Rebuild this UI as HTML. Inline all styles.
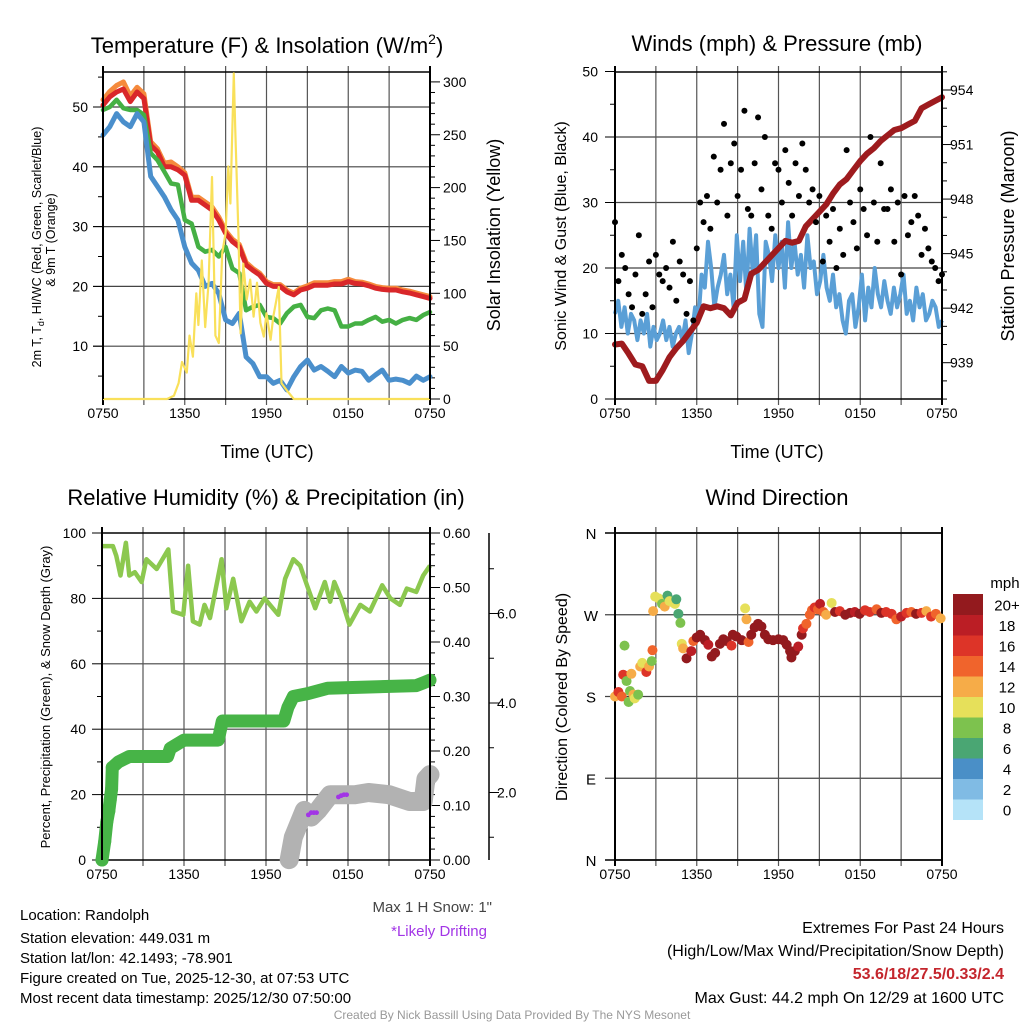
<!DOCTYPE html>
<html><head><meta charset="utf-8"><title>Mesonet Meteogram</title>
<style>
html,body{margin:0;padding:0;background:#fff;}
svg{display:block;font-family:"Liberation Sans",Arial,sans-serif;}
</style></head>
<body>
<svg id="fig" width="1024" height="1024" viewBox="0 0 1024 1024" xmlns="http://www.w3.org/2000/svg">
<rect width="1024" height="1024" fill="#fff"/>
<g id="g-tl"></g>
<g id="g-tr"></g>
<g id="g-bl"></g>
<g id="g-br"></g>

<text x="267" y="53" font-size="22" text-anchor="middle">Temperature (F) &amp; Insolation (W/m<tspan font-size="14" dy="-9">2</tspan><tspan dy="9">)</tspan></text>
<text x="777" y="51" font-size="22" text-anchor="middle">Winds (mph) &amp; Pressure (mb)</text>
<text x="266" y="505" font-size="22" text-anchor="middle">Relative Humidity (%) &amp; Precipitation (in)</text>
<text x="777" y="505" font-size="22" text-anchor="middle">Wind Direction</text>

<text transform="translate(41,247) rotate(-90)" font-size="12.5" text-anchor="middle">2m T, T<tspan font-size="9" dy="3">d</tspan><tspan dy="-3">, HI/WC (Red, Green, Scarlet/Blue)</tspan></text>
<text transform="translate(55,240) rotate(-90)" font-size="12.5" text-anchor="middle">&amp; 9m T (Orange)</text>
<text transform="translate(500,235) rotate(-90)" font-size="18" text-anchor="middle">Solar Insolation (Yellow)</text>
<text x="267" y="458" font-size="18" text-anchor="middle">Time (UTC)</text>
<text transform="translate(566,236) rotate(-90)" font-size="16" text-anchor="middle">Sonic Wind &amp; Gust (Blue, Black)</text>
<text transform="translate(1014,236) rotate(-90)" font-size="18" text-anchor="middle">Station Pressure (Maroon)</text>
<text x="777" y="458" font-size="18" text-anchor="middle">Time (UTC)</text>
<text transform="translate(50,697) rotate(-90)" font-size="13" text-anchor="middle">Percent, Precipitation (Green), &amp; Snow Depth (Gray)</text>
<text transform="translate(567,697) rotate(-90)" font-size="16" text-anchor="middle">Direction (Colored By Speed)</text>
<text x="1005" y="588" font-size="15" text-anchor="middle">mph</text>

<g font-size="15">
<text x="20" y="920">Location: Randolph</text>
<text x="20" y="943">Station elevation: 449.031 m</text>
<text x="20" y="963">Station lat/lon: 42.1493; -78.901</text>
<text x="20" y="983">Figure created on Tue, 2025-12-30, at 07:53 UTC</text>
<text x="20" y="1003">Most recent data timestamp: 2025/12/30 07:50:00</text>
</g>
<text x="492" y="912" font-size="15" fill="#444" text-anchor="end">Max 1 H Snow: 1"</text>
<text x="487" y="936" font-size="15" fill="#a235e6" text-anchor="end">*Likely Drifting</text>
<text x="1004" y="933" font-size="16" text-anchor="end">Extremes For Past 24 Hours</text>
<text x="1004" y="956" font-size="16" text-anchor="end">(High/Low/Max Wind/Precipitation/Snow Depth)</text>
<text x="1004" y="979" font-size="16" font-weight="bold" fill="#c4262d" text-anchor="end">53.6/18/27.5/0.33/2.4</text>
<text x="1004" y="1003" font-size="16" text-anchor="end">Max Gust: 44.2 mph On 12/29 at 1600 UTC</text>
<text x="512" y="1019" font-size="12" fill="#999" text-anchor="middle">Created By Nick Bassill Using Data Provided By The NYS Mesonet</text>
</svg>
<script>
// ---- data ----
var xTickLabels = ["0750","1350","1950","0150","0750"];
var tempRed = [50.3,51.7,52.5,53,50.9,52.5,51.4,43.6,42.5,40,40,39.5,38.6,34.4,34.4,33.6,32.8,31.1,28.9,27.5,26.6,23.6,22.7,21.9,20.5,20,20,19.1,18.6,19.4,19.7,20.2,20.2,20.2,20.4,20.4,20.8,20.5,20.4,20.1,19.7,19.5,19.4,19.4,19.1,18.9,18.6,18.3,18.0];
var tempOrange = [51.2,52.6,53.6,54.2,51.8,53.3,52.2,44.2,43,40.6,40.8,40,39,34.9,34.9,34.1,33.3,31.6,29.3,27.9,27,24,23,22.2,20.8,20.3,20.3,19.4,18.9,19.7,20.1,20.6,20.6,20.6,20.8,20.8,21.2,20.8,20.7,20.4,20,19.8,19.7,19.7,19.4,19.2,18.9,18.6,18.3];
var tempGreen = [49.5,50,51.2,49.8,49.5,49.5,48.7,42.3,41.1,39.2,37.2,37,31.1,30.5,26.6,25.8,26.1,25,26.6,23,22.2,16,16.6,16.9,14.9,14.7,13.8,15.5,16.6,16.9,14.9,14.7,16,16.3,16,13.3,13.3,13.8,13.8,14.4,14.9,14.1,14.4,13.8,14.4,14.7,14.4,15.2,15.7];
var tempBlue = [45.3,46.7,48.9,47.5,46.7,48.9,47.5,38.4,36.7,35,32.8,31.1,26.6,23.9,22.7,20,20.5,18.8,14.4,13.8,15.5,8.2,7.1,4.9,4.9,3.8,4.3,2.7,4.9,6.6,7.7,6,6.6,5.8,4.9,6.6,5.5,6,5.8,4.3,5.2,6,4.3,4.5,4.3,3.8,5,4.3,4.9];
var solarHours = [0,4.7,5.2,5.55,5.8,6.15,6.35,6.6,6.85,7.0,7.25,7.5,7.75,8.0,8.25,8.5,8.75,9.0,9.2,9.35,9.6,9.7,9.95,10.1,10.3,10.55,10.8,11.05,11.3,11.55,11.8,12.0,12.3,12.5,12.9,13.1,13.5,14,24];
var solarValues = [0,0,3,15,35,25,60,40,100,70,131,68,110,210,60,53,138,157,220,185,308,257,151,62,128,94,113,78,110,72,59,81,56,78,106,15,8,0,0];
var windSpeed = [13,15,11,14,10,13,12,9,12,10,13,8,11,9,10,12,9,11,8,10,11,9,12,7,10,14,12,19,17,24,20,14,17,19,22,16,19,14,25,18,24,16,26,19,25,13,11,24,22,18,25,20,24,17,27,20,24,19,22,17,25,20,21,16,18,22,17,15,19,14,16,12,10,15,16,11,14,19,12,17,14,20,16,14,18,15,13,17,14,16,19,13,15,12,17,14,16,12,13,15,14,11,12];
var gustValues = [27,18,22,20,16,14,19,25,13,16,21,14,22,19,18,20,17,24,15,21,19,13,18,12,23,30,27,31,26,37,30,35,42,28,36,39,31,35,44,29,28,36,43,32,40,28,26,36,35,30,38,33,28,36,31,39,35,30,32,27,31,21,28,24,29,20,26,22,38,30,27,23,32,29,25,40,30,24,36,29,29,32,24,30,19,31,25,27,31,28,22,26,23,21,20,18,19];
var pressure = [940.0,940.05,939.5,938.9,938.8,938,938,938.6,939.3,939.8,940.2,940.7,941.2,942.1,942,942.1,942,941.6,942.3,942.5,943.9,944.1,944.5,944.9,945.3,945.7,945.6,945.7,946.5,946.9,947.3,947.7,948.3,948.8,949.1,949.6,950.1,950.5,950.8,951.2,951.5,951.8,951.9,952.1,952.3,953,953.2,953.4,953.6];
var rhHours = [0,0.8,1.05,1.35,1.75,2,2.4,2.9,3.25,4,4.85,5.2,5.95,6.3,6.65,7.15,7.5,7.9,8.75,9.1,9.6,10.2,10.8,11.3,11.9,12.9,13.4,14,14.5,15,15.6,16.3,16.7,17,17.5,18.1,18.9,19.6,20.5,21.1,21.8,22.3,23,23.5,24];
var rhValues = [96,96,93,87,97,87,88,85,92,89,95,76,75,90,73,72,78,74,92,77,86,73,79,76,80,75,86,92,90,84,77,85,79,85,80,72,78,76,84,80,78,83,82,87,90];
var precipHours = [0,0.2,0.35,0.5,0.6,0.7,0.75,1.2,2,4.8,5,6,8.5,8.8,13.3,13.6,14,15,16.5,23,23.5,24];
var precipValues = [0,0.034,0.07,0.09,0.11,0.13,0.17,0.18,0.19,0.19,0.205,0.22,0.22,0.255,0.255,0.28,0.30,0.305,0.315,0.32,0.325,0.33];
var snowHours = [13.7,14,14.8,15.3,15.8,16.3,16.7,17.5,18.5,19.5,21,22.5,23.5,23.7,24];
var snowValues = [0.5,1.0,1.6,1.45,1.6,1.8,1.95,1.95,1.95,2.0,1.95,1.8,1.8,2.3,2.4];
var driftHours = [15.1,15.3,15.5,15.7,17.3,17.5,17.7,17.9];
var driftValues = [1.5,1.55,1.55,1.55,1.9,1.93,1.95,1.95];
var dirHours = [0,0.25,0.5,0.6,0.7,0.85,1,1.1,1.2,1.35,1.45,1.7,1.85,2,2.3,2.5,2.7,2.75,2.8,2.95,3.2,3.45,3.65,3.85,4,4.3,4.4,4.5,4.65,4.8,4.9,5,5.25,5.6,5.75,6,6.25,6.6,6.85,7.1,7.35,7.7,7.95,8.2,8.55,8.65,8.9,9.3,9.55,9.65,9.8,10,10.25,10.5,10.75,11,11.25,11.6,12,12.35,12.6,12.85,12.95,13.2,13.45,13.7,13.8,14.05,14.3,14.45,14.65,14.9,15.05,15.3,15.5,15.9,16.15,16.5,16.9,17.25,17.6,17.95,18.35,18.7,19.2,19.55,19.9,20.3,20.65,21,21.4,21.75,22.1,22.5,22.85,23.2,23.55,23.9];
var dirValues = [180,185,180,204,236,197,174,186,205,182,178,182,213,217,207,213,219,231,274,290,288,282,279,291,285,283,282,287,271,261,238,233,222,230,241,245,248,242,237,224,228,238,243,241,236,248,246,242,277,265,240,248,256,260,257,248,243,242,243,242,237,230,223,230,235,248,255,260,270,275,278,276,282,273,270,283,273,274,270,272,273,271,275,273,276,272,273,271,265,268,272,273,271,272,274,268,271,266];
var dirSpeeds = [12,16,15,16,8,8,8,8,12,12,10,8,12,10,16,12,8,14,12,10,10,8,12,6,10,10,10,6,6,8,10,12,20,18,14,20,20,20,18,20,20,20,20,20,16,20,20,20,10,12,14,20,20,20,20,20,20,20,20,20,20,20,20,20,18,20,16,14,14,14,16,14,18,14,12,10,20,16,20,20,18,20,16,16,14,20,16,16,14,18,16,14,20,16,12,16,14,12];
var cbLabels = ["0","2","4","6","8","10","12","14","16","18","20+"];
var cbColors = ["#b5e3f8","#80bbe4","#4a8fc7","#4aa673","#7dc24e","#e6e05a","#f6ac48","#f0642c","#dd3428","#bb1e25","#931a1e"];

// ---- helpers ----
var NS = "http://www.w3.org/2000/svg";
function mk(parent, tag, attrs){ var e=document.createElementNS(NS,tag); for(var k in attrs) e.setAttribute(k,attrs[k]); parent.appendChild(e); return e; }
function txt(parent, x, y, s, size, anchor){ var t=mk(parent,"text",{x:x,y:y,"font-size":size,"text-anchor":anchor}); t.textContent=s; return t; }
function pathD(xs, ys){ var d=""; for(var i=0;i<xs.length;i++){ d+=(i?"L":"M")+xs[i].toFixed(1)+" "+ys[i].toFixed(1); } return d; }

function frame(g, x0, x1, y0, y1){
  var lab = mk(g,"g",{});
  
  
  for(var i=0;i<=8;i++){
    var x = x0 + (x1-x0)*i/8;
    var l = mk(g,"line",{x1:x,y1:y0-6,x2:x,y2:y1+6,stroke:(i==0||i==8)?"#000":"#555","stroke-width":(i==0||i==8)?2:1.2});
    
    
    if(i%2==0){
      var t = txt(lab, x, y1+19, xTickLabels[i/2], 14, "middle");
      
      
    }
  }
  mk(g,"line",{x1:x0,y1:y0,x2:x1,y2:y0,stroke:"#000","stroke-width":1.5});
  mk(g,"line",{x1:x0,y1:y1,x2:x1,y2:y1,stroke:"#000","stroke-width":1.5});
}
function hgrid(g, x0, x1, y){ var l=mk(g,"line",{x1:x0,y1:y,x2:x1,y2:y,stroke:"#444","stroke-width":1.2});
  
   }
function leftTicks(g, x0, yf, vmin, vmax, major, minor, fmt, labelx){
  for(var v=vmin; v<=vmax+1e-9; v+=minor){
    var isMaj = Math.abs(v/major - Math.round(v/major))<1e-6;
    var y = yf(v);
    mk(g,"line",{x1:x0-(isMaj?10:5),y1:y,x2:x0,y2:y,stroke:"#000","stroke-width":1});
    if(isMaj && fmt){ var t=txt(g,labelx,y+5,fmt(v),14,"end");
      
       }
  }
}
function rightTicks(g, x1, yf, vmin, vmax, major, minor, fmt, labelx){
  for(var v=vmin; v<=vmax+1e-9; v+=minor){
    var isMaj = Math.abs(v/major - Math.round(v/major))<1e-6;
    var y = yf(v);
    mk(g,"line",{x1:x1,y1:y,x2:x1+(isMaj?10:5),y2:y,stroke:"#000","stroke-width":1});
    if(isMaj && fmt){ var t=txt(g,labelx,y+5,fmt(v),14,"start");
      
       }
  }
}

// ---- Panel 1: temperature ----
(function(){
  var g=document.getElementById("g-tl");
  var x0=103,x1=430,y0=72,y1=399;
  function X(h){return x0+(x1-x0)*h/24;}
  function Y(v){return 406-5.98*v;}
  function YS(w){return 399-1.057*w;}
  [10,20,30,40,50].forEach(function(v){hgrid(g,x0,x1,Y(v));});
  frame(g,x0,x1,y0,y1);
  leftTicks(g,x0,Y,5,55,10,5,null,0);
  leftTicks(g,x0,Y,10,50,10,10,function(v){return String(v);},88);
  rightTicks(g,x1,YS,0,300,50,10,function(v){return String(v);},443);
  function series(arr,color,w,name){
    var xs=arr.map(function(v,i){return X(i*24/(arr.length-1));}), ys=arr.map(function(v){return Y(v);});
    var p=mk(g,"path",{d:pathD(xs,ys),fill:"none",stroke:color,"stroke-width":w,"stroke-linejoin":"round","stroke-linecap":"round"});
    
    
  }
  series(tempOrange,"#f58a3c",5,"temp-9m-line");
  series(tempRed,"#d9272a",5,"temp-2m-line");
  series(tempGreen,"#45b044",4.5,"heat-index-wind-chill-line");
  series(tempBlue,"#4a8fcc",5,"dewpoint-line");
  var sp=mk(g,"path",{d:pathD(solarHours.map(X),solarValues.map(YS)),fill:"none",stroke:"#f9e05a","stroke-width":2.2,"stroke-linejoin":"round"});
  
  
  mk(g,"line",{x1:x0,y1:y0,x2:x0,y2:y1,stroke:"#000","stroke-width":2});
  mk(g,"line",{x1:x1,y1:y0,x2:x1,y2:y1,stroke:"#000","stroke-width":2});
})();

// ---- Panel 2: winds ----
(function(){
  var g=document.getElementById("g-tr");
  var x0=615,x1=942,y0=72,y1=399;
  function X(h){return x0+(x1-x0)*h/24;}
  function Y(v){return 399-6.55*v;}
  function YP(p){return 90+(954-p)*18.18;}
  [10,20,30,40].forEach(function(v){hgrid(g,x0,x1,Y(v));});
  frame(g,x0,x1,y0,y1);
  leftTicks(g,x0,Y,0,50,10,5,function(v){return String(v);},598);
  rightTicks(g,x1,YP,937,955,3,1,function(v){return String(v);},950);
  var n=windSpeed.length;
  var wp=mk(g,"path",{d:pathD(windSpeed.map(function(v,i){return X(i*24/(n-1));}),windSpeed.map(Y)),fill:"none",stroke:"#5a9fd6","stroke-width":4,"stroke-linejoin":"round"});
  
  
  var pp=mk(g,"path",{d:pathD(pressure.map(function(v,i){return X(i*0.5);}),pressure.map(YP)),fill:"none",stroke:"#9e1b1e","stroke-width":6,"stroke-linejoin":"round","stroke-linecap":"round"});
  
  
  gustValues.forEach(function(v,i){
    var c=mk(g,"circle",{cx:X(i*0.25),cy:Y(v),r:3,fill:"#000"});
    
    
  });
  mk(g,"line",{x1:x0,y1:y0,x2:x0,y2:y1,stroke:"#000","stroke-width":2});
  mk(g,"line",{x1:x1,y1:y0,x2:x1,y2:y1,stroke:"#000","stroke-width":2});
})();

// ---- Panel 3: humidity / precip / snow ----
(function(){
  var g=document.getElementById("g-bl");
  var x0=102,x1=430,y0=533,y1=860;
  function X(h){return x0+(x1-x0)*h/24;}
  function Y(v){return 860-3.27*v;}
  function YPr(v){return 860-545*v;}
  function YSn(s){return 882-44.75*s;}
  [20,40,60,80].forEach(function(v){hgrid(g,x0,x1,Y(v));});
  frame(g,x0,x1,y0,y1);
  leftTicks(g,x0,Y,0,100,20,10,function(v){return String(v);},86);
  rightTicks(g,x1,YPr,0,0.6,0.1,0.02,function(v){return v.toFixed(2);},443);
  var sx=489;
  mk(g,"line",{x1:sx,y1:y0,x2:sx,y2:y1,stroke:"#000","stroke-width":1.5});
  for(var s=1;s<=7;s++){ var yy=YSn(s); mk(g,"line",{x1:sx,y1:yy,x2:sx+(s%2==0?10:5),y2:yy,stroke:"#000","stroke-width":1});
    if(s%2==0){ var t=txt(g,497,yy+5,s.toFixed(1),14,"start");
      
       } }
  var rp=mk(g,"path",{d:pathD(rhHours.map(X),rhValues.map(Y)),fill:"none",stroke:"#8cc84f","stroke-width":4.5,"stroke-linejoin":"round"});
  
  
  var prp=mk(g,"path",{d:pathD(precipHours.map(X),precipValues.map(YPr)),fill:"none",stroke:"#47b447","stroke-width":13,"stroke-linejoin":"round","stroke-linecap":"round"});
  
  
  precipHours.forEach(function(h,i){ if(h<1){ var c=mk(g,"circle",{cx:X(h),cy:YPr(precipValues[i]),r:6.5,fill:"#47b447"});
    
     } });
  var snp=mk(g,"path",{d:pathD(snowHours.map(X),snowValues.map(YSn)),fill:"none",stroke:"#b2b2b2","stroke-width":19,"stroke-linejoin":"round","stroke-linecap":"round"});
  
  
  driftHours.forEach(function(h,i){ var c=mk(g,"circle",{cx:X(h),cy:YSn(driftValues[i]),r:2.4,fill:"#a235e6"});
    
     });
  mk(g,"line",{x1:x0,y1:y0,x2:x0,y2:y1,stroke:"#000","stroke-width":2});
  mk(g,"line",{x1:x1,y1:y0,x2:x1,y2:y1,stroke:"#000","stroke-width":2});
})();

// ---- Panel 4: wind direction ----
(function(){
  var g=document.getElementById("g-br");
  var x0=615,x1=942,y0=533,y1=860;
  function X(h){return x0+(x1-x0)*h/24;}
  function Y(d){return 860-d*(327/360);}
  [90,180,270].forEach(function(v){hgrid(g,x0-10,x1,Y(v));});
  mk(g,"line",{x1:x0-10,y1:y0,x2:x1,y2:y0,stroke:"#000","stroke-width":1.5});
  mk(g,"line",{x1:x0-10,y1:y1,x2:x1,y2:y1,stroke:"#000","stroke-width":1.5});
  frame(g,x0,x1,y0,y1);
  var dl=["N","E","S","W","N"];
  for(var i=0;i<5;i++){ var t=txt(g,591,Y(i*90)+6,dl[i],15,"middle");
    
     }
  dirHours.forEach(function(h,i){
    var b=Math.min(10,Math.floor(dirSpeeds[i]/2));
    var c=mk(g,"circle",{cx:X(h),cy:Y(dirValues[i]),r:5,fill:cbColors[b]});
    
    
  });
  var cbx=953, cbTop=594, cbH=20.5;
  for(var k=0;k<11;k++){
    var y=cbTop+(10-k)*cbH;
    var r=mk(g,"rect",{x:cbx,y:y,width:30,height:cbH+0.5,fill:cbColors[k]});
    
    
    var t=txt(g,1007,y+cbH/2+6,cbLabels[k],15,"middle");
    
    
  }
})();
</script>
</body></html>
